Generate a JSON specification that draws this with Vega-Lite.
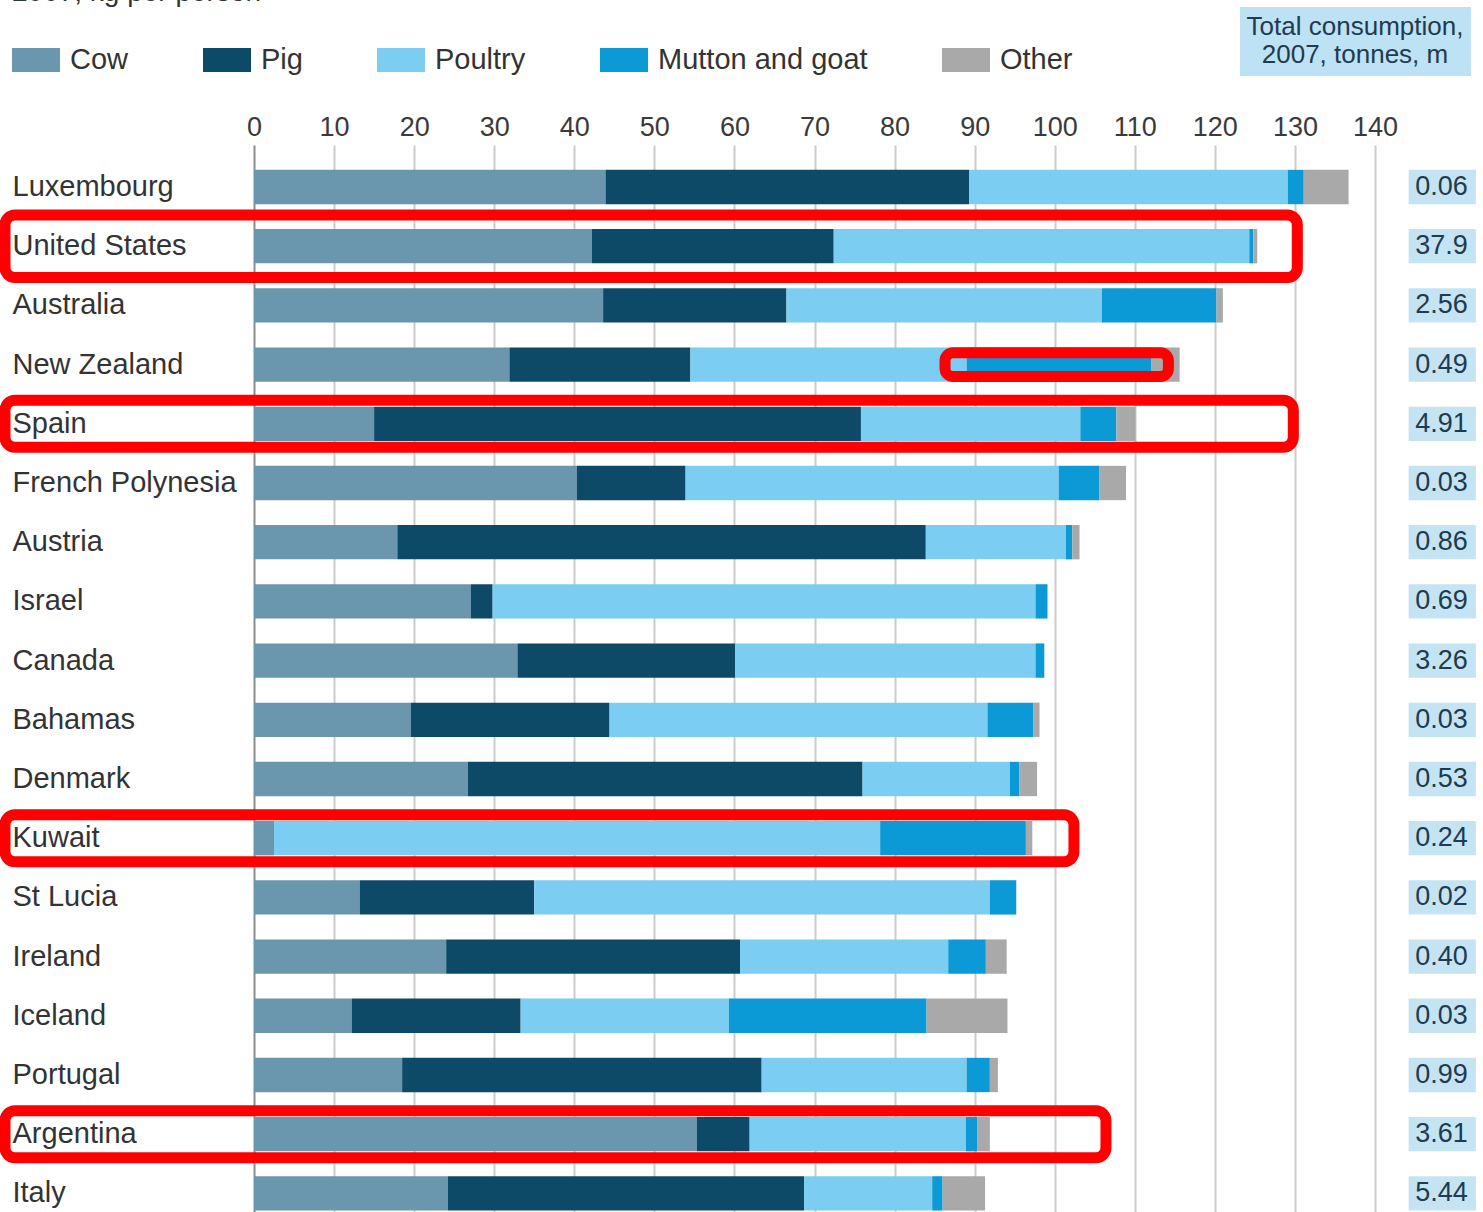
{
  "$schema": "https://vega.github.io/schema/vega-lite/v6.json",
  "autosize": {"type": "none"},
  "padding": {"left": 254, "top": 145, "right": 108, "bottom": 0},
  "width": 1121,
  "height": 1067,
  "background": "white",
  "config": {"view": {"stroke": null}, "font": "Liberation Sans"},
  "title": {"text": "2007, kg per person", "anchor": "start", "frame": "group", "dx": -242, "offset": 0, "fontSize": 28, "fontWeight": "normal", "color": "#333333"},
  "datasets": {
    "meat": [
      {"country": "Luxembourg", "Cow": 43.9, "Pig": 45.4, "Poultry": 39.8, "Mutton and goat": 2.0, "Other": 5.6, "total": "0.06"},
      {"country": "United States", "Cow": 42.2, "Pig": 30.2, "Poultry": 51.9, "Mutton and goat": 0.5, "Other": 0.5, "total": "37.9"},
      {"country": "Australia", "Cow": 43.6, "Pig": 22.9, "Poultry": 39.4, "Mutton and goat": 14.3, "Other": 0.8, "total": "2.56"},
      {"country": "New Zealand", "Cow": 31.9, "Pig": 22.6, "Poultry": 34.5, "Mutton and goat": 23.1, "Other": 3.5, "total": "0.49"},
      {"country": "Spain", "Cow": 15.0, "Pig": 60.8, "Poultry": 27.4, "Mutton and goat": 4.5, "Other": 2.4, "total": "4.91"},
      {"country": "French Polynesia", "Cow": 40.3, "Pig": 13.6, "Poultry": 46.6, "Mutton and goat": 5.1, "Other": 3.3, "total": "0.03"},
      {"country": "Austria", "Cow": 17.9, "Pig": 66.0, "Poultry": 17.5, "Mutton and goat": 0.8, "Other": 0.9, "total": "0.86"},
      {"country": "Israel", "Cow": 27.1, "Pig": 2.7, "Poultry": 67.8, "Mutton and goat": 1.5, "Other": 0, "total": "0.69"},
      {"country": "Canada", "Cow": 32.9, "Pig": 27.2, "Poultry": 37.5, "Mutton and goat": 1.1, "Other": 0, "total": "3.26"},
      {"country": "Bahamas", "Cow": 19.6, "Pig": 24.8, "Poultry": 47.2, "Mutton and goat": 5.7, "Other": 0.8, "total": "0.03"},
      {"country": "Denmark", "Cow": 26.7, "Pig": 49.3, "Poultry": 18.4, "Mutton and goat": 1.2, "Other": 2.2, "total": "0.53"},
      {"country": "Kuwait", "Cow": 2.5, "Pig": 0, "Poultry": 75.7, "Mutton and goat": 18.2, "Other": 0.8, "total": "0.24"},
      {"country": "St Lucia", "Cow": 13.2, "Pig": 21.8, "Poultry": 56.9, "Mutton and goat": 3.3, "Other": 0, "total": "0.02"},
      {"country": "Ireland", "Cow": 24.0, "Pig": 36.7, "Poultry": 26.0, "Mutton and goat": 4.7, "Other": 2.6, "total": "0.40"},
      {"country": "Iceland", "Cow": 12.2, "Pig": 21.1, "Poultry": 26.0, "Mutton and goat": 24.7, "Other": 10.1, "total": "0.03"},
      {"country": "Portugal", "Cow": 18.5, "Pig": 44.9, "Poultry": 25.6, "Mutton and goat": 2.9, "Other": 1.0, "total": "0.99"},
      {"country": "Argentina", "Cow": 55.3, "Pig": 6.6, "Poultry": 27.0, "Mutton and goat": 1.4, "Other": 1.6, "total": "3.61"},
      {"country": "Italy", "Cow": 24.2, "Pig": 44.5, "Poultry": 16.0, "Mutton and goat": 1.3, "Other": 5.3, "total": "5.44"}
    ],
    "types": [
      {"type": "Cow", "rank": 1},
      {"type": "Pig", "rank": 2},
      {"type": "Poultry", "rank": 3},
      {"type": "Mutton and goat", "rank": 4},
      {"type": "Other", "rank": 5}
    ],
    "boxes": [
      {"country": "United States", "x0": -31.1, "x1": 130.3, "g": "tall"},
      {"country": "New Zealand", "x0": 86.3, "x1": 114.2, "g": "thin"},
      {"country": "Spain", "x0": -31.1, "x1": 129.8, "g": "mid"},
      {"country": "Kuwait", "x0": -31.1, "x1": 102.4, "g": "mid"},
      {"country": "Argentina", "x0": -31.1, "x1": 106.4, "g": "mid"}
    ]
  },
  "layer": [
    {
      "data": {"name": "meat"},
      "transform": [
        {"fold": ["Cow", "Pig", "Poultry", "Mutton and goat", "Other"], "as": ["type", "kg"]},
        {"lookup": "type", "from": {"data": {"name": "types"}, "key": "type", "fields": ["rank"]}}
      ],
      "mark": {"type": "bar"},
      "encoding": {
        "y": {
          "field": "country", "type": "nominal", "sort": null,
          "scale": {"paddingInner": 0.42, "paddingOuter": 0.222, "align": 0.945},
          "axis": {"title": null, "domain": false, "ticks": false, "labelAlign": "left", "labelPadding": 242, "labelFontSize": 29, "labelColor": "#333333", "labelLimit": 400}
        },
        "x": {
          "field": "kg", "type": "quantitative", "stack": "zero",
          "scale": {"domain": [0, 140], "nice": false},
          "axis": {"orient": "top", "title": null, "values": [0, 10, 20, 30, 40, 50, 60, 70, 80, 90, 100, 110, 120, 130, 140], "domain": false, "ticks": false, "labelPadding": 4, "labelFontSize": 27, "labelColor": "#3a3a3a", "labelFlush": false, "grid": true, "gridWidth": 2, "gridColor": {"condition": {"test": "datum.value === 0", "value": "#8c8c8c"}, "value": "#cccccc"}}
        },
        "color": {
          "field": "type", "type": "nominal",
          "scale": {"domain": ["Cow", "Pig", "Poultry", "Mutton and goat", "Other"], "range": ["#6a96ae", "#0c4a67", "#7bcdf1", "#0b9ad5", "#a9a9a9"]},
          "legend": {"orient": "none", "legendX": -242, "legendY": -109, "direction": "horizontal", "columns": 5, "columnPadding": 74, "title": null, "symbolType": "M-1,-0.5H1V0.5H-1Z", "symbolSize": 2304, "symbolStrokeWidth": 0, "symbolOpacity": 1, "labelFontSize": 29, "labelOffset": 10, "labelColor": "#333333", "padding": 0, "labelLimit": 400}
        },
        "order": {"field": "rank", "type": "quantitative"}
      }
    },
    {
      "data": {"name": "meat"},
      "mark": {"type": "bar", "color": "#c5e4f3"},
      "encoding": {
        "y": {"field": "country", "type": "nominal", "sort": null},
        "x": {"datum": 144.2, "type": "quantitative"},
        "x2": {"datum": 152.6},
        "opacity": {
          "datum": "t", "type": "ordinal", "scale": {"range": [1]},
          "legend": {"orient": "none", "legendX": 986, "legendY": -138, "title": ["Total consumption,", "2007, tonnes, m"], "titleFontSize": 26, "titleLineHeight": 28, "titleColor": "#1f3b4f", "titleFontWeight": "normal", "titleAlign": "center", "titleAnchor": "middle", "titlePadding": 0, "titleLimit": 600, "padding": 7, "fillColor": "#bde2f3", "labelExpr": "''", "symbolSize": 0, "symbolOpacity": 0, "symbolStrokeWidth": 0, "labelFontSize": 1, "rowPadding": 0}
        }
      }
    },
    {
      "data": {"name": "meat"},
      "mark": {"type": "text", "fontSize": 27, "color": "#1f3b4f", "align": "center", "baseline": "middle"},
      "encoding": {
        "y": {"field": "country", "type": "nominal", "sort": null},
        "x": {"datum": 148.3, "type": "quantitative"},
        "text": {"field": "total", "type": "nominal"}
      }
    },
    {
      "data": {"name": "boxes"},
      "transform": [{"filter": "datum.g === 'tall'"}],
      "mark": {"type": "bar", "filled": false, "color": "#ff0000", "strokeWidth": 11, "cornerRadius": 10, "height": {"band": 1.82}},
      "encoding": {
        "y": {"field": "country", "type": "nominal", "sort": null},
        "x": {"field": "x0", "type": "quantitative"},
        "x2": {"field": "x1"}
      }
    },
    {
      "data": {"name": "boxes"},
      "transform": [{"filter": "datum.g === 'mid'"}],
      "mark": {"type": "bar", "filled": false, "color": "#ff0000", "strokeWidth": 11, "cornerRadius": 10, "height": {"band": 1.37}},
      "encoding": {
        "y": {"field": "country", "type": "nominal", "sort": null},
        "x": {"field": "x0", "type": "quantitative"},
        "x2": {"field": "x1"}
      }
    },
    {
      "data": {"name": "boxes"},
      "transform": [{"filter": "datum.g === 'thin'"}],
      "mark": {"type": "bar", "filled": false, "color": "#ff0000", "strokeWidth": 11, "cornerRadius": 8, "height": {"band": 0.69}},
      "encoding": {
        "y": {"field": "country", "type": "nominal", "sort": null},
        "x": {"field": "x0", "type": "quantitative"},
        "x2": {"field": "x1"}
      }
    }
  ]
}
